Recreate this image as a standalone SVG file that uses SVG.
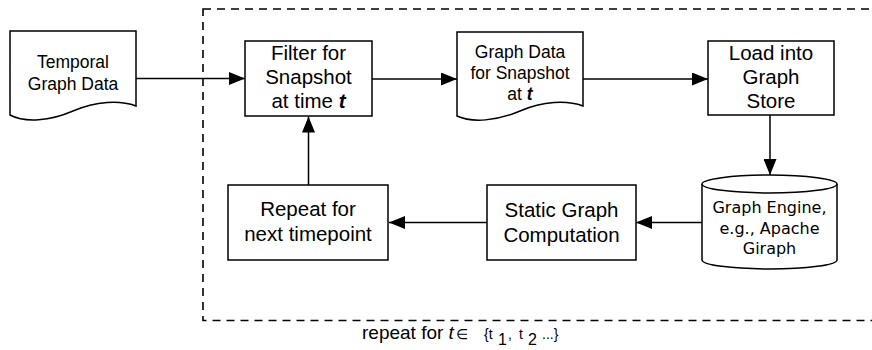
<svg xmlns="http://www.w3.org/2000/svg" width="872" height="350" viewBox="0 0 872 350">
  <style>
    .shape { fill: #fff; stroke: #000; stroke-width: 1.5; }
    .edge { fill: none; stroke: #000; stroke-width: 1.5; }
    .frame { fill: none; stroke: #000; stroke-width: 1.6; stroke-dasharray: 8 6; }
    .lbl { font-family: "Liberation Sans", Arial, sans-serif; font-size: 20.5px; fill: #000; text-anchor: middle; }
    .doc { font-family: "Liberation Sans", Arial, sans-serif; font-size: 17.5px; fill: #000; text-anchor: middle; }
    .db { font-family: "DejaVu Sans", Verdana, sans-serif; font-size: 16px; fill: #000; text-anchor: middle; }
    .cap { font-family: "Liberation Sans", Arial, sans-serif; font-size: 19px; fill: #000; }
    .sm { font-size: 14px; }
    .sub { font-size: 16px; }
    .it { font-style: italic; font-weight: bold; }
  </style>
  <defs>
    <marker id="arrow" viewBox="0 0 16 13" refX="16" refY="6.5" markerWidth="16" markerHeight="13" markerUnits="userSpaceOnUse" orient="auto">
      <path d="M0,0 L16,6.5 L0,13 Z" fill="#000"/>
    </marker>
  </defs>

  <!-- loop frame, right side runs off the canvas -->
  <rect class="frame" x="203" y="9" width="700" height="311.5"/>

  <g id="connectors">
    <line class="edge" x1="136" y1="78.5" x2="245" y2="78.5" marker-end="url(#arrow)"/>
    <line class="edge" x1="372" y1="79" x2="457" y2="79" marker-end="url(#arrow)"/>
    <line class="edge" x1="583" y1="79" x2="708" y2="79" marker-end="url(#arrow)"/>
    <line class="edge" x1="770" y1="115" x2="770" y2="175" marker-end="url(#arrow)"/>
    <line class="edge" x1="702" y1="222.5" x2="636" y2="222.5" marker-end="url(#arrow)"/>
    <line class="edge" x1="487" y1="222.5" x2="389" y2="222.5" marker-end="url(#arrow)"/>
    <line class="edge" x1="308.5" y1="185" x2="308.5" y2="116.5" marker-end="url(#arrow)"/>
  </g>

  <g id="temporal-data">
    <path class="shape" d="M10,31 H136 V106 C120,100 96,101 73,111 C50,121 25,123 10,115 Z"/>
    <text class="doc" x="73" y="68">Temporal</text>
    <text class="doc" x="73" y="90">Graph Data</text>
  </g>

  <g id="filter">
    <rect class="shape" x="245" y="41" width="127" height="75"/>
    <text class="lbl" x="308.5" y="60">Filter for</text>
    <text class="lbl" x="308.5" y="84">Snapshot</text>
    <text class="lbl" x="308.5" y="108">at time <tspan class="it">t</tspan></text>
  </g>

  <g id="snapshot-data">
    <path class="shape" d="M457,32 H583 V106 C567,100 543,101 520,111 C497,121 472,123 457,116 Z"/>
    <text class="doc" x="520" y="58">Graph Data</text>
    <text class="doc" x="520" y="79">for Snapshot</text>
    <text class="doc" x="520" y="100">at <tspan class="it">t</tspan></text>
  </g>

  <g id="load-store">
    <rect class="shape" x="708" y="41" width="126" height="74"/>
    <text class="lbl" x="771" y="60">Load into</text>
    <text class="lbl" x="771" y="84">Graph</text>
    <text class="lbl" x="771" y="108">Store</text>
  </g>

  <g id="graph-engine">
    <path class="shape" d="M702,184 V260 A67.5,9 0 0 0 837,260 V184"/>
    <ellipse class="shape" cx="769.5" cy="184" rx="67.5" ry="9"/>
    <text class="db" x="769.5" y="213">Graph Engine,</text>
    <text class="db" x="769.5" y="234">e.g., Apache</text>
    <text class="db" x="769.5" y="254">Giraph</text>
  </g>

  <g id="static-computation">
    <rect class="shape" x="487" y="185" width="149" height="75"/>
    <text class="lbl" x="561.5" y="217">Static Graph</text>
    <text class="lbl" x="561.5" y="242">Computation</text>
  </g>

  <g id="repeat-next">
    <rect class="shape" x="228" y="185" width="160" height="75"/>
    <text class="lbl" x="308" y="216">Repeat for</text>
    <text class="lbl" x="308" y="241">next timepoint</text>
  </g>

  <text class="cap" x="362" y="339">repeat for <tspan font-style="italic">t</tspan><tspan class="sm" x="456">∈</tspan><tspan class="sm" x="484">{t</tspan><tspan class="sub" x="498" dy="6">1</tspan><tspan class="sm" x="508" dy="-6">,</tspan><tspan class="sm" x="519">t</tspan><tspan class="sub" x="528" dy="6">2</tspan><tspan class="sm" x="542" dy="-6">...}</tspan></text>
</svg>
